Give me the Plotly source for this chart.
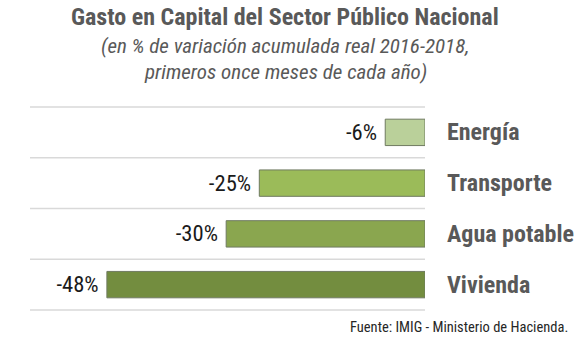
import plotly.graph_objects as go

categories = ["Energía", "Transporte", "Agua potable", "Vivienda"]
values = [-6, -25, -30, -48]
labels = ["-6%", "-25%", "-30%", "-48%"]
colors = ["#bad09a", "#9bbb59", "#8aa64f", "#738d3f"]

FONT = "Roboto Condensed, Liberation Sans Narrow, DejaVu Sans Condensed, Roboto, sans-serif"
GREY = "#595959"
W, H = 575, 341
ML, MR, MT, MB = 30, 150, 107, 31

fig = go.Figure(
    go.Bar(
        x=values,
        y=categories,
        orientation="h",
        marker=dict(color=colors, line=dict(color="#6f7a60", width=1)),
        text=[t + "\u00a0" for t in labels],
        textposition="outside",
        textfont=dict(family=FONT, size=24, color="#1a1a1a"),
        cliponaxis=False,
        hoverinfo="skip",
    )
)

# horizontal separators between categories
for k in range(5):
    fig.add_shape(
        type="line", xref="paper", yref="paper",
        x0=0, x1=1, y0=k / 4, y1=k / 4,
        line=dict(color="#d9d9d9", width=1.5), layer="below",
    )

fig.update_layout(
    width=W, height=H,
    margin=dict(l=ML, r=MR, t=MT, b=MB),
    paper_bgcolor="white", plot_bgcolor="white",
    showlegend=False,
    bargap=0.48,
    xaxis=dict(range=[-59.6, 0], visible=False, fixedrange=True),
    yaxis=dict(visible=False, autorange="reversed", fixedrange=True),
)

# helpers: page pixels -> paper coordinates
def py(ypix):
    return (H - MB - ypix) / (H - MT - MB)

def px(xpix):
    return (xpix - ML) / (W - ML - MR)

# category names to the right of the bars
for c in categories:
    fig.add_annotation(
        x=1, xref="paper", y=c, yref="y",
        text=f"<b>{c}</b>", showarrow=False,
        xanchor="left", yanchor="middle", xshift=20,
        font=dict(family=FONT, size=24, color=GREY),
    )

fig.add_annotation(
    x=px(285), xref="paper", y=py(17), yref="paper",
    xanchor="center", yanchor="middle",
    text="<b>Gasto en Capital del Sector Público Nacional</b>",
    showarrow=False, font=dict(family=FONT, size=24, color=GREY),
)
fig.add_annotation(
    x=px(285), xref="paper", y=py(46), yref="paper",
    xanchor="center", yanchor="middle",
    text="<i>(en % de variación acumulada real 2016-2018,</i>",
    showarrow=False, font=dict(family=FONT, size=21, color=GREY),
)
fig.add_annotation(
    x=px(285), xref="paper", y=py(72), yref="paper",
    xanchor="center", yanchor="middle",
    text="<i>primeros once meses de cada año)</i>",
    showarrow=False, font=dict(family=FONT, size=21, color=GREY),
)
fig.add_annotation(
    x=px(570), xref="paper", y=py(327), yref="paper",
    xanchor="right", yanchor="middle",
    text="Fuente: IMIG - Ministerio de Hacienda.",
    showarrow=False, font=dict(family=FONT, size=14.5, color="#262626"),
)

fig.write_html("out.html")
